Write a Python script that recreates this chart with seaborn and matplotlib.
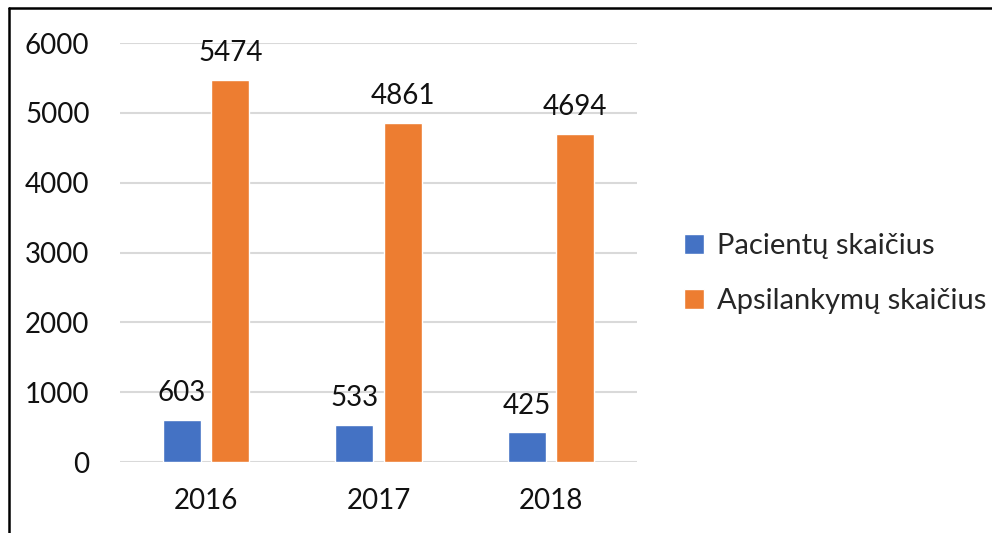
import pandas as pd
import matplotlib.pyplot as plt
import seaborn as sns
from matplotlib.lines import Line2D

years = ['2016', '2017', '2018']
series = ['Pacientų skaičius', 'Apsilankymų skaičius']
patients = [603, 533, 425]
visits = [5474, 4861, 4694]
yticks = [0, 1000, 2000, 3000, 4000, 5000, 6000]

df = pd.DataFrame({
    'year': years * 2,
    'series': [series[0]] * 3 + [series[1]] * 3,
    'value': patients + visits,
})

sns.set_theme(style='white')
plt.rcParams['font.family'] = ['Lato', 'DejaVu Sans']

fig = plt.figure(figsize=(9.92, 5.33), dpi=100)
ax = fig.add_axes([0.121, 0.133, 0.521, 0.786])

sns.barplot(data=df, x='year', y='value', hue='series',
            palette=['#4472C4', '#ED7D31'], width=0.56, gap=0.21,
            saturation=1, ax=ax)

for c in ax.containers:
    ax.bar_label(c, padding=10, fontsize=20, color='#111111')

ax.set_ylim(0, 6000)
ax.set_xlim(-0.5, 2.5)
ax.set_yticks(yticks)
ax.yaxis.grid(True, color='#d9d9d9', linewidth=1.5)
ax.set_axisbelow(True)
for s in ax.spines.values():
    s.set_visible(False)
ax.tick_params(axis='both', length=0, labelsize=20, colors='#111111')
ax.tick_params(axis='y', pad=22)
ax.tick_params(axis='x', pad=19)
ax.set_xlabel('')
ax.set_ylabel('')

leg = ax.legend(loc='center left', bbox_to_anchor=(1.04, 0.45), frameon=False,
                fontsize=21, handlelength=0.7, handleheight=0.7,
                handletextpad=0.45, labelspacing=1.0)

# outer frame (only left and top visible in the crop)
fig.add_artist(Line2D([9 / 992, 9 / 992], [0, 1 - 8 / 533], color='black', lw=1.8, transform=fig.transFigure))
fig.add_artist(Line2D([9 / 992, 1], [1 - 8 / 533, 1 - 8 / 533], color='black', lw=1.8, transform=fig.transFigure))

plt.savefig('out.png', dpi=100)
